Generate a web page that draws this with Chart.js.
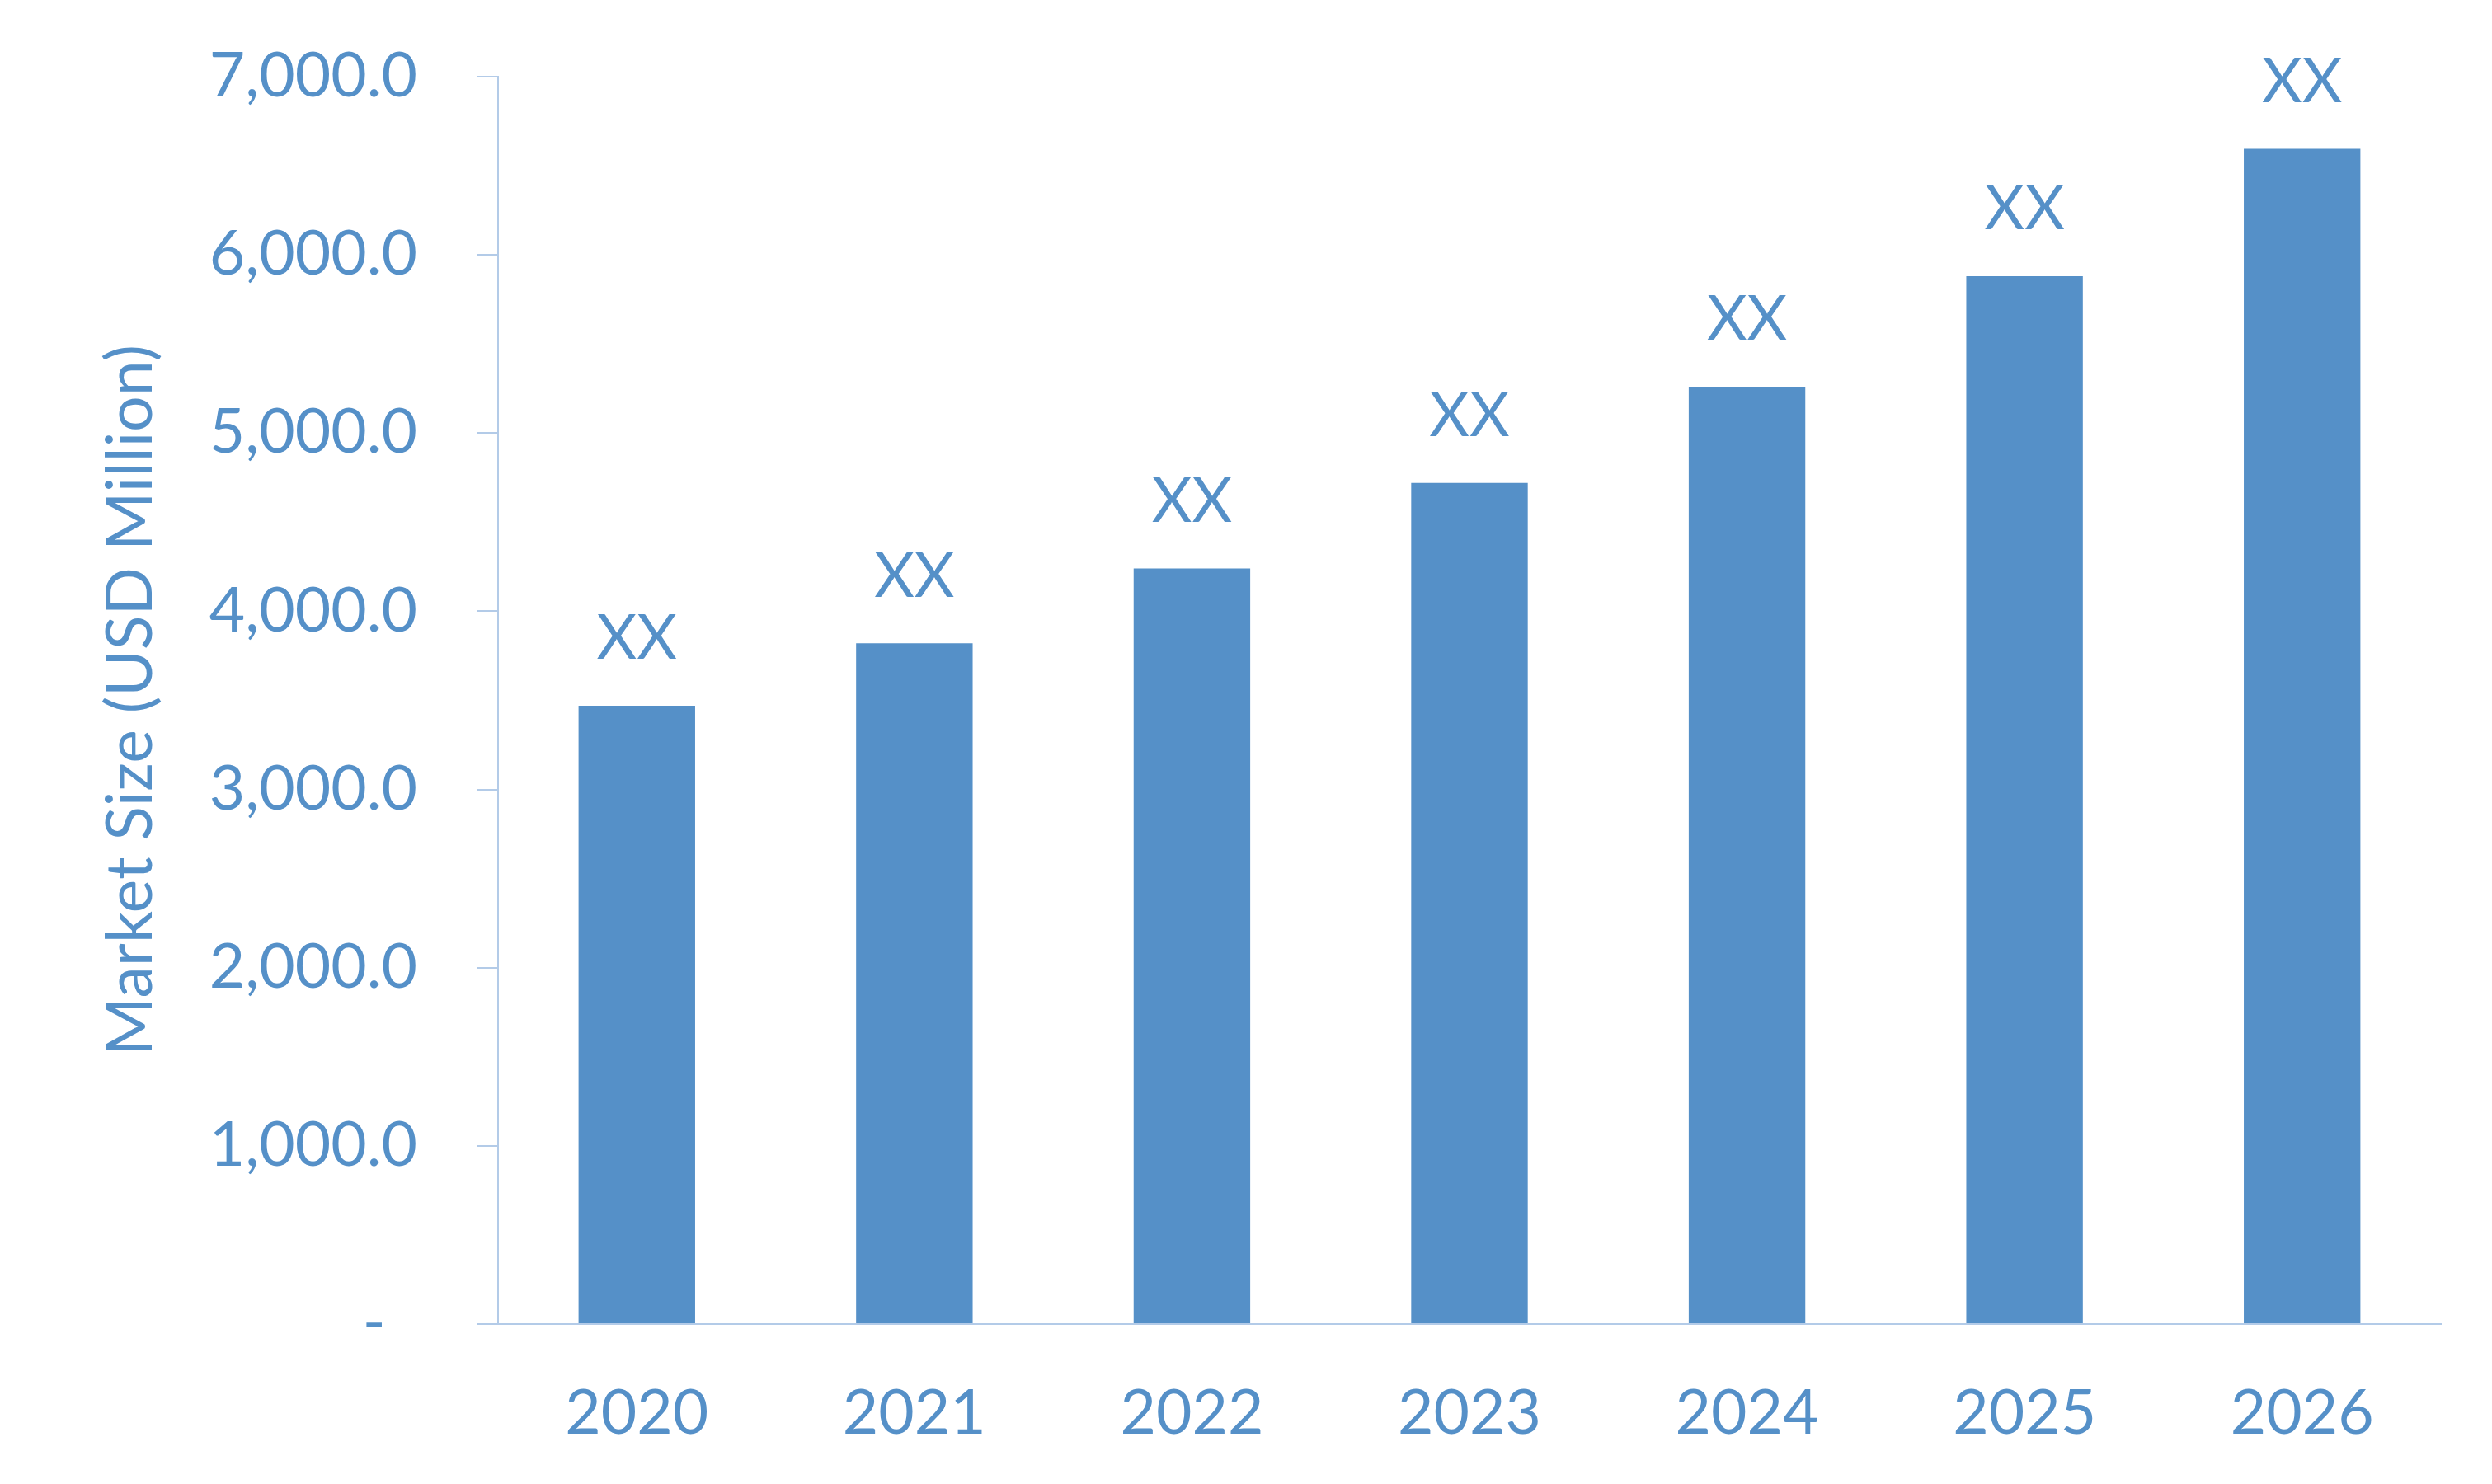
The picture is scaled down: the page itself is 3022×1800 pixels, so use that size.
<!DOCTYPE html>
<html>
<head>
<meta charset="utf-8">
<script src="https://cdn.jsdelivr.net/npm/chart.js@4/dist/chart.umd.min.js"></script>
<style>
  html, body { margin: 0; padding: 0; background: #ffffff; }
  #wrap { width: 3022px; height: 1800px; }
</style>
</head>
<body>
<div id="wrap"><canvas id="c" width="3022" height="1800"></canvas></div>
<script>
const categories = ['2020', '2021', '2022', '2023', '2024', '2025', '2026'];
const marketSize = [3470, 3820, 4240, 4720, 5260, 5880, 6595];
const barLabels = ['XX', 'XX', 'XX', 'XX', 'XX', 'XX', 'XX'];
const yAxisTitle = 'Market Size (USD Million)';
const yMin = 0, yMax = 7000, yStep = 1000;

const BLUE = '#5590c8';
const AXIS = '#b3cbe8';
const FONT = 'Lato, "Open Sans", sans-serif';
const FS = 75;

const valueLabels = {
  id: 'valueLabels',
  afterDatasetsDraw(chart) {
    const ctx = chart.ctx;
    const meta = chart.getDatasetMeta(0);
    ctx.save();
    ctx.fillStyle = BLUE;
    ctx.font = FS + 'px ' + FONT;
    ctx.textAlign = 'center';
    ctx.textBaseline = 'middle';
    meta.data.forEach((bar, i) => {
      ctx.fillText(barLabels[i], bar.x, bar.y - 81);
    });
    ctx.restore();
  }
};

new Chart(document.getElementById('c'), {
  type: 'bar',
  data: {
    labels: categories,
    datasets: [{
      data: marketSize,
      backgroundColor: BLUE,
      borderWidth: 0,
      barPercentage: 0.42,
      categoryPercentage: 1.0
    }]
  },
  options: {
    responsive: false,
    devicePixelRatio: 1,
    animation: false,
    layout: { padding: { top: 93, right: 62, bottom: 0, left: 0 } },
    plugins: { legend: { display: false }, tooltip: { enabled: false } },
    scales: {
      x: {
        grid: { display: true, drawOnChartArea: false, drawTicks: false, color: AXIS },
        border: { display: true, color: AXIS, width: 2 },
        ticks: { color: BLUE, font: { family: FONT, size: FS }, padding: 64 },
        afterFit(scale) { scale.height = 194; }
      },
      y: {
        min: yMin, max: yMax,
        grid: { display: true, drawOnChartArea: false, drawTicks: true, tickLength: 25, color: AXIS, lineWidth: 2 },
        border: { display: true, color: AXIS, width: 2 },
        ticks: {
          stepSize: yStep,
          color: BLUE,
          font: { family: FONT, size: FS },
          padding: 73,
          callback(v) {
            if (v === 0) return '-  ';
            return v.toLocaleString('en-US', { minimumFractionDigits: 1, maximumFractionDigits: 1 });
          }
        },
        title: {
          display: true,
          text: yAxisTitle,
          color: BLUE,
          font: { family: FONT, size: 77 },
          padding: { top: 113, bottom: 0 }
        },
        afterFit(scale) {
          scale.width = 604;
          scale.paddingTop = 0;
          scale.paddingBottom = 0;
        }
      }
    }
  },
  plugins: [valueLabels]
});
</script>
</body>
</html>
